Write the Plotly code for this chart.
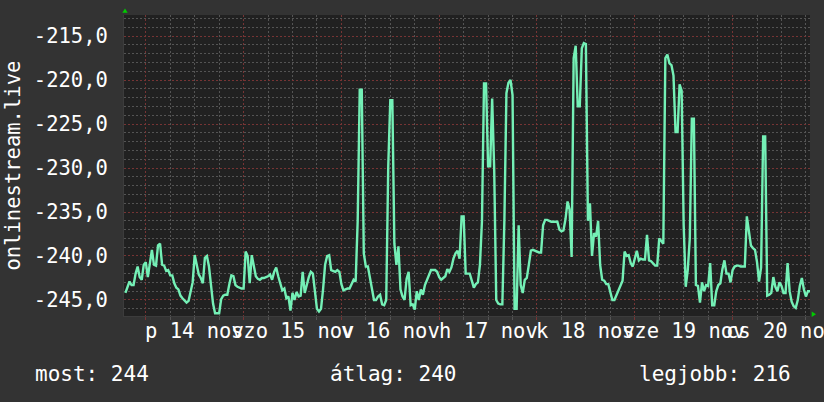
import pandas as pd
import plotly.graph_objects as go

# ---- data (half-hourly samples, 13 nov 19:00 -> 20 nov 19:00) ----
start_time = "2025-11-13 19:00"
values = [
    -244.2, -243.5, -242.9, -243.3, -243.3, -242.0, -241.2, -242.4, -242.7, -241.0,
    -240.7, -242.4, -240.8, -239.3, -241.0, -241.1, -238.8, -238.6, -241.0, -241.1,
    -241.7, -241.6, -242.2, -242.2, -243.1, -243.6, -243.8, -244.5, -244.8, -245.0,
    -245.3, -245.1, -244.2, -243.0, -239.9, -241.2, -242.1, -242.5, -243.1, -240.2,
    -240.0, -241.2, -243.6, -245.4, -246.5, -246.5, -246.5, -244.9, -244.5, -244.4,
    -244.4, -243.2, -242.2, -242.3, -243.3, -243.5, -243.6, -243.7, -243.7, -239.5,
    -240.0, -243.1, -239.9, -241.0, -242.3, -242.6, -242.7, -242.5, -242.5, -242.4,
    -242.3, -242.1, -242.7, -241.8, -241.3, -242.3, -243.2, -243.9, -243.7, -244.8,
    -244.6, -246.2, -244.2, -245.0, -244.1, -244.6, -244.5, -241.8, -244.2, -243.2,
    -242.4, -241.8, -242.0, -244.0, -246.0, -246.3, -246.0, -243.8, -241.0, -240.0,
    -239.9, -241.6, -241.7, -241.8, -241.6, -241.8, -243.2, -243.9, -243.8, -243.7,
    -243.7, -243.1, -242.7, -242.9, -236.0, -221.1, -221.1, -239.7, -241.2, -241.2,
    -242.5, -244.0, -245.0, -245.0, -244.6, -244.4, -245.5, -245.6, -245.0, -229.8,
    -222.3, -222.3, -238.6, -241.0, -238.9, -243.8, -244.6, -245.0, -242.6, -241.8,
    -245.6, -245.5, -246.1, -244.0, -245.0, -243.8, -244.4, -243.3, -242.8, -242.1,
    -241.6, -241.6, -241.6, -241.8, -242.4, -242.7, -242.5, -242.3, -241.5, -241.8,
    -241.3, -240.3, -239.7, -239.4, -240.3, -235.5, -235.5, -242.0, -242.0, -242.0,
    -242.8, -243.6, -243.2, -243.0, -241.0, -236.0, -220.4, -220.4, -229.8, -229.8,
    -222.1, -230.2, -245.0, -245.4, -245.5, -245.5, -235.9, -221.5, -220.3, -220.0,
    -221.7, -246.0, -246.0, -236.5, -243.3, -244.2, -242.7, -242.5, -241.0, -239.4,
    -239.3, -239.4, -239.5, -239.6, -239.6, -236.5, -235.9, -235.9, -236.0, -236.1,
    -236.1, -236.1, -236.1, -237.0, -237.2, -237.1, -235.8, -233.8, -234.7, -240.1,
    -217.5, -216.1, -223.0, -223.0, -216.4, -215.8, -215.9, -236.0, -234.0, -240.0,
    -237.4, -237.8, -236.0, -241.0, -242.7, -242.8, -243.2, -243.2, -244.1, -245.0,
    -245.0, -244.5, -244.0, -243.5, -242.8, -239.5, -240.0, -239.9, -240.8, -241.2,
    -240.2, -239.4, -240.5, -240.3, -240.4, -240.4, -237.6, -240.5, -240.6, -240.9,
    -241.1, -241.1, -238.0, -238.3, -238.6, -217.5, -217.1, -218.1, -218.3, -219.5,
    -225.9, -225.9, -220.5, -221.2, -236.5, -243.5, -241.6, -238.0, -224.4, -224.4,
    -243.3, -243.4, -245.3, -243.0, -244.0, -243.3, -243.4, -240.8, -245.6, -245.6,
    -244.0, -243.3, -243.1, -241.5, -240.5, -242.0, -242.0, -243.0, -241.6, -241.2,
    -241.1, -241.1, -241.2, -241.2, -241.2, -235.5, -237.5, -238.8, -239.1, -239.3,
    -240.7, -242.9, -241.3, -226.4, -226.4, -244.5, -244.4, -244.2, -242.4, -243.5,
    -244.0, -243.0, -243.4, -244.2, -244.2, -240.8, -244.0, -245.2, -245.7, -245.9,
    -245.0, -243.4, -242.5, -243.8, -244.6, -244.0, -244.0,
]
times = pd.date_range(start_time, periods=len(values), freq="30min")

day_label_dates = ["2025-11-14 12:00", "2025-11-15 12:00", "2025-11-16 12:00",
                   "2025-11-17 12:00", "2025-11-18 12:00", "2025-11-19 12:00",
                   "2025-11-20 12:00"]
day_labels = ["p 14 nov", "szo 15 nov", "v 16 nov", "h 17 nov",
              "k 18 nov", "sze 19 nov", "cs 20 nov"]
midnights = ["2025-11-14", "2025-11-15", "2025-11-16", "2025-11-17",
             "2025-11-18", "2025-11-19", "2025-11-20"]
y_tick_vals = [-245, -240, -235, -230, -225, -220, -215]
y_tick_text = ["-245,0", "-240,0", "-235,0", "-230,0", "-225,0", "-220,0", "-215,0"]
y_title = "onlinestream.live"
summary_labels = ["most: 244", "átlag: 240", "legjobb: 216"]

# ---- layout geometry ----
W, H = 824, 402
L, R, T, B = 124, 14, 15, 86
PW, PH = W - L - R, H - T - B


def px(x):
    return (x - L) / PW


def py(y):
    return (H - B - y) / PH


FONT = "DejaVu Sans Mono"
MAJOR = "#763434"
MINOR = "#545454"
LINE = "#74F0B6"

fig = go.Figure()
fig.add_trace(go.Scatter(x=times, y=values, mode="lines",
                         line=dict(color=LINE, width=2.4), hoverinfo="skip"))

annotations = []
for d, t in zip(day_label_dates, day_labels):
    annotations.append(dict(x=d, y=py(331), xref="x", yref="paper", text=t,
                            showarrow=False, xanchor="center", yanchor="middle",
                            font=dict(family=FONT, size=20.5, color="white")))
annotations.append(dict(x=px(12), y=0.5, xref="paper", yref="paper", text=y_title,
                        textangle=-90, showarrow=False, xanchor="center", yanchor="middle",
                        font=dict(family=FONT, size=20.5, color="white")))
for xl, t in zip([33, 328, 637], summary_labels):
    annotations.append(dict(x=px(xl), y=py(374), xref="paper", yref="paper", text=t,
                            showarrow=False, xanchor="left", yanchor="middle",
                            font=dict(family=FONT, size=21, color="white")))

shapes = [
    dict(type="path", xref="paper", yref="paper", line=dict(width=0), fillcolor="#00cc00",
         path=f"M {px(122.3)},{py(12.7)} L {px(127.7)},{py(12.7)} L {px(125)},{py(8.5)} Z"),
    dict(type="path", xref="paper", yref="paper", line=dict(width=0), fillcolor="#00cc00",
         path=f"M {px(811.7)},{py(311.5)} L {px(811.7)},{py(317)} L {px(816)},{py(314.2)} Z"),
]

fig.update_layout(
    width=W, height=H,
    margin=dict(l=L, r=R, t=T, b=B, pad=0),
    paper_bgcolor="#333333", plot_bgcolor="#212121",
    showlegend=False,
    font=dict(family=FONT, size=20.5, color="white"),
    annotations=annotations, shapes=shapes,
    xaxis=dict(
        type="date",
        range=["2025-11-13 18:39", "2025-11-20 19:00"],
        tickmode="array", tickvals=midnights, showticklabels=False,
        showgrid=True, gridcolor=MAJOR, griddash="2px,2px", gridwidth=1,
        ticks="outside", ticklen=3, tickcolor=MAJOR,
        minor=dict(dtick=6 * 3600 * 1000, tick0="2025-11-14", showgrid=True,
                   gridcolor=MINOR, griddash="2px,2px", ticks="outside",
                   ticklen=3, tickcolor=MINOR),
        zeroline=False, showline=True, linecolor="#3c3c3c", linewidth=1,
        fixedrange=True,
    ),
    yaxis=dict(
        range=[-246.82, -212.61],
        tickmode="array", tickvals=y_tick_vals, ticktext=y_tick_text,
        showgrid=True, gridcolor=MAJOR, griddash="2px,2px", gridwidth=1,
        minor=dict(dtick=1, tick0=-245, showgrid=True, gridcolor=MINOR,
                   griddash="2px,2px"),
        ticks="", ticklabelstandoff=11,
        tickfont=dict(family=FONT, size=20.5, color="white"),
        zeroline=False, showline=True, linecolor="#3c3c3c", linewidth=1,
        fixedrange=True,
    ),
)

fig.write_html(
    "out.html",
    config={"displayModeBar": False, "staticPlot": True},
    post_script="document.body.style.margin='0';document.body.style.background='#333333';",
)
